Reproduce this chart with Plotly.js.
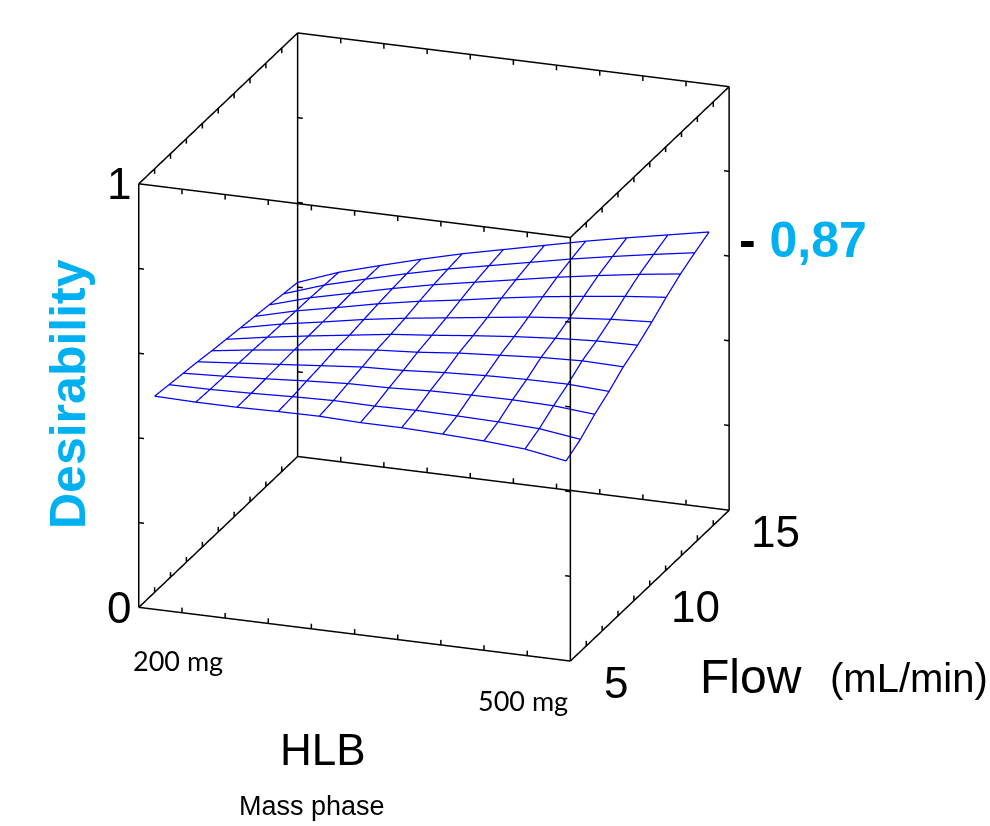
<!DOCTYPE html>
<html><head><meta charset="utf-8">
<script src="https://cdn.plot.ly/plotly-3.0.1.min.js"></script>
<style>html,body{margin:0;padding:0;background:#fff;overflow:hidden}</style>
</head><body>
<div id="chart" style="width:990px;height:826px"></div>
<script>
// Surface grid
const hlb = [200, 228.6, 257.2, 285.8, 314.4, 343, 371.6, 400.2, 428.8, 457.4, 486];
const flow = [6, 6.9, 7.8, 8.7, 9.6, 10.5, 11.4, 12.3, 13.2, 14.1, 15];
// rows = flow, columns = hlb
const desirability = [
  [0.463, 0.461, 0.461, 0.463, 0.464, 0.461, 0.461, 0.458, 0.454, 0.447, 0.431],
  [0.458, 0.459, 0.462, 0.466, 0.469, 0.468, 0.470, 0.469, 0.467, 0.463, 0.450],
  [0.453, 0.458, 0.464, 0.471, 0.477, 0.479, 0.484, 0.486, 0.487, 0.485, 0.477],
  [0.448, 0.457, 0.466, 0.475, 0.484, 0.488, 0.495, 0.500, 0.503, 0.504, 0.499],
  [0.442, 0.456, 0.468, 0.481, 0.492, 0.499, 0.509, 0.516, 0.523, 0.527, 0.525],
  [0.437, 0.454, 0.469, 0.483, 0.497, 0.507, 0.518, 0.528, 0.536, 0.542, 0.544],
  [0.432, 0.453, 0.470, 0.488, 0.503, 0.516, 0.529, 0.542, 0.552, 0.561, 0.567],
  [0.427, 0.452, 0.472, 0.493, 0.511, 0.526, 0.543, 0.558, 0.571, 0.583, 0.593],
  [0.422, 0.451, 0.474, 0.497, 0.518, 0.536, 0.554, 0.572, 0.588, 0.603, 0.616],
  [0.416, 0.449, 0.475, 0.500, 0.523, 0.543, 0.563, 0.583, 0.601, 0.618, 0.634],
  [0.411, 0.447, 0.475, 0.502, 0.527, 0.549, 0.571, 0.593, 0.613, 0.632, 0.651]
];
// Axis ranges, ticks and labels
const hlbRange = [200, 500];
const flowRange = [5, 15];
const zRange = [0, 1];
const hlbTicks = [200, 230, 260, 290, 320, 350, 380, 410, 440, 470, 500];
const flowTicks = [5, 6, 7, 8, 9, 10, 11, 12, 13, 14, 15];
const zTicks = [0, 0.2, 0.4, 0.6, 0.8, 1];
const hlbLabels = ['200 mg', '500 mg'];
const flowLabels = [5, 10, 15];
const zLabels = [0, 1];
const optimumLabel = '0,87';

// Wireframe lines from the grid
const wx = [], wy = [], wz = [];
function brk(ax, ay, az) { ax.push(null); ay.push(null); az.push(null); }
for (let j = 0; j < flow.length; j++) {
  for (let i = 0; i < hlb.length; i++) { wx.push(hlb[i]); wy.push(flow[j]); wz.push(desirability[j][i]); }
  brk(wx, wy, wz);
}
for (let i = 0; i < hlb.length; i++) {
  for (let j = 0; j < flow.length; j++) { wx.push(hlb[i]); wy.push(flow[j]); wz.push(desirability[j][i]); }
  brk(wx, wy, wz);
}

// Bounding box: all 12 edges from the axis ranges, with small tick marks
const bx = [], by = [], bz = [];
function seg(p, q) { bx.push(p[0], q[0]); by.push(p[1], q[1]); bz.push(p[2], q[2]); brk(bx, by, bz); }
const tz = 0.012 * (zRange[1] - zRange[0]);
const tx = 0.012 * (hlbRange[1] - hlbRange[0]);
hlbRange.forEach(X => flowRange.forEach(Y => {
  seg([X, Y, zRange[0]], [X, Y, zRange[1]]);
  zTicks.forEach(Z => seg([X, Y, Z], [X + (X === hlbRange[0] ? tx : -tx), Y, Z]));
}));
flowRange.forEach(Y => zRange.forEach(Z => {
  seg([hlbRange[0], Y, Z], [hlbRange[1], Y, Z]);
  hlbTicks.forEach(X => seg([X, Y, Z], [X, Y, Z + (Z === zRange[0] ? tz : -tz)]));
}));
hlbRange.forEach(X => zRange.forEach(Z => {
  seg([X, flowRange[0], Z], [X, flowRange[1], Z]);
  flowTicks.forEach(Y => seg([X, Y, Z], [X, Y, Z + (Z === zRange[0] ? tz : -tz)]));
}));

const wire = {
  type: 'scatter3d', mode: 'lines', x: wx, y: wy, z: wz,
  line: {color: '#0000ff', width: 2.5}, connectgaps: false,
  hoverinfo: 'skip', showlegend: false
};
const frame = {
  type: 'scatter3d', mode: 'lines', x: bx, y: by, z: bz,
  line: {color: '#000000', width: 3}, connectgaps: false,
  hoverinfo: 'skip', showlegend: false
};

const numFont = {family: 'Liberation Sans Narrow, Arial Narrow, Liberation Sans, Arial, sans-serif', size: 44, color: '#000'};
const mgFont = {family: 'Lato, Carlito, Calibri, sans-serif', size: 27, color: '#000'};

const sceneAnn = [];
zLabels.forEach(v => sceneAnn.push({x: hlbRange[0], y: flowRange[0], z: v, text: String(v), showarrow: false,
  xanchor: 'right', yanchor: 'middle', xshift: -6, font: numFont}));
flowLabels.forEach(v => sceneAnn.push({x: hlbRange[1], y: v, z: zRange[0], text: String(v), showarrow: false,
  xanchor: 'center', yanchor: 'middle', xshift: 46, yshift: -21, font: numFont}));
sceneAnn.push({x: hlbRange[0], y: flowRange[0], z: zRange[0], text: hlbLabels[0], showarrow: false,
  xanchor: 'left', yanchor: 'middle', xshift: -8, yshift: -53, font: mgFont});
sceneAnn.push({x: hlbRange[1], y: flowRange[0], z: zRange[0], text: hlbLabels[1], showarrow: false,
  xanchor: 'right', yanchor: 'middle', xshift: 0, yshift: -39, font: mgFont});

// small padding so the frame on the range edges is never clipped
function axis(range) {
  const pad = (range[1] - range[0]) * 0.002;
  return {
    range: [range[0] - pad, range[1] + pad], autorange: false,
    showticklabels: false, ticks: '', showline: false,
    showgrid: false, zeroline: false, showbackground: false, showspikes: false,
    title: {text: ''}
  };
}

const R = 1.8;
const ed = [0.3196, -0.8828, 0.3438];

const layout = {
  width: 990, height: 826,
  margin: {l: 0, r: 0, t: 0, b: 0},
  paper_bgcolor: '#fff',
  showlegend: false,
  scene: {
    domain: {x: [0, 0.8768], y: [0.1598, 1]},
    xaxis: axis(hlbRange),
    yaxis: axis(flowRange),
    zaxis: axis(zRange),
    aspectmode: 'manual',
    aspectratio: {x: 1.328, y: 1.35, z: 1.305},
    camera: {
      eye: {x: ed[0] * R, y: ed[1] * R, z: ed[2] * R},
      up: {x: 0, y: 0, z: 1}, center: {x: 0, y: 0, z: 0},
      projection: {type: 'orthographic'}
    },
    annotations: sceneAnn
  },
  annotations: [
    {xref: 'paper', yref: 'paper', x: 68 / 990, y: 1 - 394 / 826, text: '<b>Desirability</b>', textangle: -90,
     showarrow: false, xanchor: 'center', yanchor: 'middle',
     font: {family: 'Liberation Sans, Arial, sans-serif', size: 50, color: '#00B0F0'}},
    {xref: 'paper', yref: 'paper', x: 737 / 990, y: 1 - 240 / 826, text: '<b>- <span style="color:#00B0F0">' + optimumLabel + '</span></b>',
     showarrow: false, xanchor: 'left', yanchor: 'middle',
     font: {family: 'Liberation Sans, Arial, sans-serif', size: 50, color: '#000'}},
    {xref: 'paper', yref: 'paper', x: 323 / 990, y: 1 - 749 / 826, text: 'HLB', showarrow: false,
     xanchor: 'center', yanchor: 'middle', font: numFont},
    {xref: 'paper', yref: 'paper', x: 312 / 990, y: 1 - 806 / 826, text: 'Mass phase', showarrow: false,
     xanchor: 'center', yanchor: 'middle', font: {family: 'Liberation Sans, Arial, sans-serif', size: 27, color: '#000'}},
    {xref: 'paper', yref: 'paper', x: 751 / 990, y: 1 - 676 / 826, text: 'Flow', showarrow: false,
     xanchor: 'center', yanchor: 'middle', font: {family: 'Liberation Sans, Arial, sans-serif', size: 48, color: '#000'}},
    {xref: 'paper', yref: 'paper', x: 828 / 990, y: 1 - 678 / 826, text: '(mL/min)', showarrow: false,
     xanchor: 'left', yanchor: 'middle', font: {family: 'Liberation Sans, Arial, sans-serif', size: 40, color: '#000'}}
  ]
};

Plotly.newPlot('chart', [frame, wire], layout, {displayModeBar: false});
</script>
</body></html>
